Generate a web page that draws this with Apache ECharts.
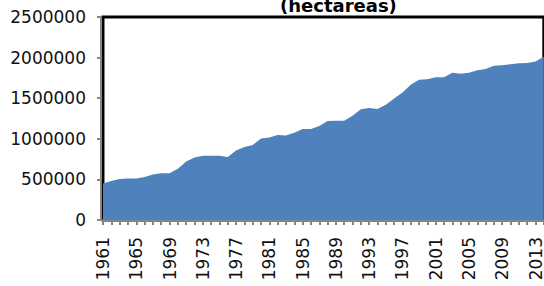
<!DOCTYPE html>
<html>
<head>
<meta charset="utf-8">
<script src="https://cdn.jsdelivr.net/npm/echarts@6/dist/echarts.min.js"></script>
<style>
    html, body { margin: 0; padding: 0; background: #fff; }
    #chart { width: 544px; height: 286px; }
</style>
</head>
<body>
<div id="chart"></div>
<script>
// años y superficie (hectareas)
var years = [];
for (var y = 1961; y <= 2014; y++) {
    years.push(String(y));
}
var hectareas = [
    450000, 480000, 505000, 510000, 512000, 530000, 560000, 575000, 575000, 630000,
    720000, 770000, 790000, 790000, 790000, 775000, 855000, 900000, 925000, 1005000,
    1015000, 1047000, 1040000, 1075000, 1120000, 1122000, 1158000, 1220000, 1223000, 1223000,
    1285000, 1363000, 1380000, 1367000, 1420000, 1495000, 1570000, 1665000, 1728000, 1733000,
    1757000, 1758000, 1814000, 1802000, 1814000, 1843000, 1860000, 1900000, 1905000, 1918000,
    1930000, 1932000, 1952000, 2010000
];
var yTicks = [0, 500000, 1000000, 1500000, 2000000, 2500000];

var myChart = echarts.init(document.getElementById('chart'), null, { renderer: 'svg' });
var option = {
    animation: false,
    title: {
        text: '(hectareas)',
        left: 275,
        top: -9,
        textStyle: {
            fontFamily: 'DejaVu Sans',
            fontWeight: 'bold',
            fontSize: 18,
            color: '#000'
        }
    },
    grid: {
        show: true,
        left: 103,
        top: 17,
        bottom: 66,
        right: -3,
        borderColor: '#000',
        borderWidth: 3,
        backgroundColor: '#fff'
    },
    xAxis: {
        type: 'category',
        data: years,
        boundaryGap: false,
        axisLine: { lineStyle: { color: '#868686', width: 2 } },
        axisTick: { interval: 0, length: 5, lineStyle: { color: '#868686', width: 2 } },
        axisLabel: {
            interval: 3,
            rotate: 90,
            margin: 17,
            color: '#111',
            fontFamily: 'DejaVu Sans',
            fontSize: 17
        },
        splitLine: { show: false }
    },
    yAxis: {
        type: 'value',
        min: yTicks[0],
        max: yTicks[yTicks.length - 1],
        interval: 500000,
        offset: 2,
        axisLine: { show: true, lineStyle: { color: '#868686', width: 2 } },
        axisTick: { show: true, length: 4, lineStyle: { color: '#868686', width: 2 } },
        axisLabel: {
            margin: 15,
            color: '#111',
            fontFamily: 'DejaVu Sans',
            fontSize: 17,
            formatter: function (v) { return String(v); }
        },
        splitLine: { show: false }
    },
    series: [{
        name: 'hectareas',
        type: 'line',
        data: hectareas,
        symbol: 'none',
        z: 1,
        lineStyle: { width: 0 },
        areaStyle: { color: '#4f81bd', opacity: 1 }
    }]
};
myChart.setOption(option);
</script>
</body>
</html>
